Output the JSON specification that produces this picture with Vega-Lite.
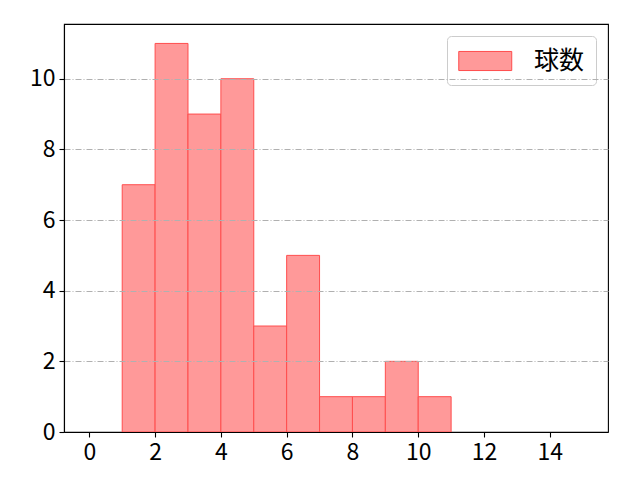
{
  "$schema": "https://vega.github.io/schema/vega-lite/v6.json",
  "width": 544,
  "height": 408,
  "autosize": {"type": "none"},
  "padding": {"left": 64, "top": 24, "right": 32, "bottom": 48},
  "background": "white",
  "config": {
    "font": "Noto Sans CJK JP",
    "view": {"stroke": "black", "strokeWidth": 1.1},
    "axis": {
      "labelFont": "Noto Sans CJK JP",
      "labelFontSize": 23,
      "labelColor": "black",
      "domainColor": "black",
      "domainWidth": 1.1,
      "tickColor": "black",
      "tickSize": 5,
      "tickWidth": 1.1,
      "labelPadding": 4,
      "title": null
    },
    "legend": {
      "labelFont": "Noto Sans CJK JP",
      "labelFontSize": 25,
      "labelColor": "black"
    }
  },
  "data": {
    "values": [
      {"start": 1, "end": 2, "count": 7},
      {"start": 2, "end": 3, "count": 11},
      {"start": 3, "end": 4, "count": 9},
      {"start": 4, "end": 5, "count": 10},
      {"start": 5, "end": 6, "count": 3},
      {"start": 6, "end": 7, "count": 5},
      {"start": 7, "end": 8, "count": 1},
      {"start": 8, "end": 9, "count": 1},
      {"start": 9, "end": 10, "count": 2},
      {"start": 10, "end": 11, "count": 1}
    ]
  },
  "mark": {"type": "bar", "stroke": "#ff4d4d", "strokeWidth": 1, "opacity": 1},
  "encoding": {
    "x": {
      "field": "start",
      "type": "quantitative",
      "scale": {"domain": [-0.77, 15.77], "nice": false, "zero": false},
      "axis": {"values": [0, 2, 4, 6, 8, 10, 12, 14], "grid": false, "zindex": 2}
    },
    "x2": {"field": "end"},
    "y": {
      "field": "count",
      "type": "quantitative",
      "scale": {"domain": [0, 11.55], "nice": false},
      "axis": {
        "values": [0, 2, 4, 6, 8, 10],
        "grid": true,
        "gridColor": "#b0b0b0",
        "gridWidth": 1,
        "gridDash": [6, 2, 1, 2],
        "zindex": 1
      }
    },
    "y2": {"datum": 0},
    "color": {
      "datum": "球数",
      "type": "nominal",
      "scale": {"range": ["#ff9999"]},
      "legend": {
        "title": null,
        "orient": "top-right",
        "offset": 12,
        "padding": 11,
        "fillColor": "white",
        "strokeColor": "#cccccc",
        "cornerRadius": 4,
        "symbolType": "M-1,-0.72H3V0.72H-1Z",
        "symbolSize": 702,
        "symbolFillColor": "#ff9999",
        "symbolStrokeColor": "#ff4d4d",
        "symbolStrokeWidth": 1,
        "symbolOpacity": 1,
        "labelOffset": 48
      }
    }
  }
}
